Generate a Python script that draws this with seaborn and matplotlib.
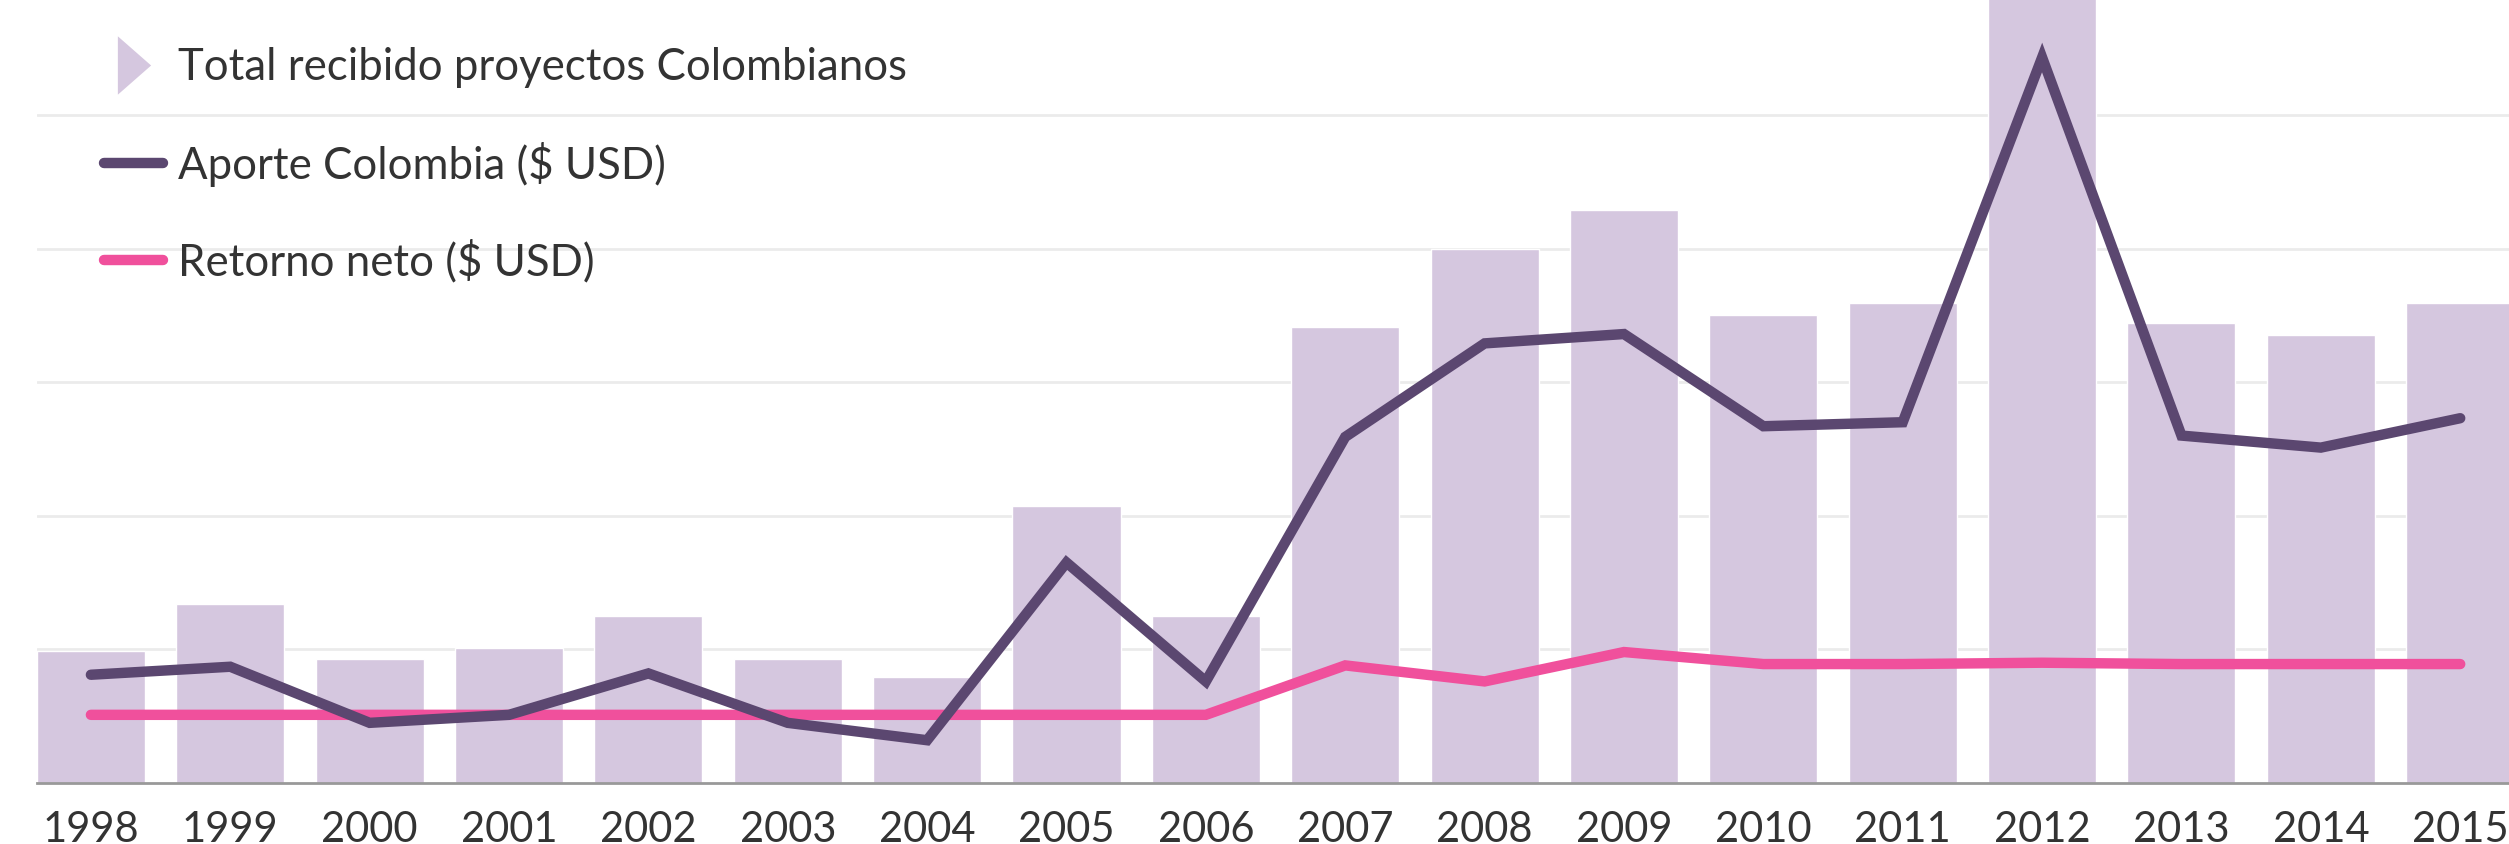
import numpy as np
import pandas as pd
import matplotlib
matplotlib.use("Agg")
import matplotlib.pyplot as plt
from matplotlib.lines import Line2D
import seaborn as sns

# data (one gridline = 1 unit)
years = [str(y) for y in range(1998, 2016)]
total_recibido = [0.99, 1.34, 0.93, 1.01, 1.25, 0.93, 0.79, 2.07, 1.25,
                  3.41, 4.00, 4.29, 3.50, 3.59, 6.20, 3.44, 3.35, 3.59]
aporte_colombia = [0.81, 0.87, 0.45, 0.51, 0.82, 0.45, 0.32, 1.65, 0.76,
                   2.59, 3.29, 3.36, 2.67, 2.70, 5.43, 2.60, 2.51, 2.73]
retorno_neto = [0.51, 0.51, 0.51, 0.51, 0.51, 0.51, 0.51, 0.51, 0.51,
                0.88, 0.76, 0.98, 0.89, 0.89, 0.90, 0.89, 0.89, 0.89]

df = pd.DataFrame({"year": years, "total": total_recibido,
                   "aporte": aporte_colombia, "retorno": retorno_neto})

bar_color = "#d5c7df"
dark = "#5b4770"
pink = "#f0509c"

sns.set_style("white")
plt.rcParams["font.family"] = ["Lato", "DejaVu Sans"]

fig = plt.figure(figsize=(25.09, 8.44), dpi=100)
ax = fig.add_axes([0.0147, 0.0723, 0.9853, 0.9277])

sns.barplot(data=df, x="year", y="total", color=bar_color, saturation=1,
            width=0.775, ax=ax, zorder=2)
sns.pointplot(data=df, x="year", y="retorno", color=pink, markersize=0,
              linewidth=7.5, solid_capstyle="round", solid_joinstyle="miter",
              ax=ax, zorder=3)
sns.pointplot(data=df, x="year", y="aporte", color=dark, markersize=0,
              linewidth=7.5, solid_capstyle="round", solid_joinstyle="miter",
              ax=ax, zorder=4)

ax.set_xlim(-0.3875, 17.35)
ax.set_ylim(0, 5.86)
ax.set_yticks([1, 2, 3, 4, 5])
ax.set_yticklabels([])
ax.tick_params(axis="y", length=0)
ax.tick_params(axis="x", length=0, labelsize=30, colors="#333333", pad=20)
ax.grid(axis="y", color="#ebebeb", linewidth=2)
ax.set_axisbelow(True)
ax.set_xlabel("")
ax.set_ylabel("")
for side in ["top", "right", "left"]:
    ax.spines[side].set_visible(False)
ax.spines["bottom"].set_color("#999999")
ax.spines["bottom"].set_linewidth(2)

tri = [(-0.57, -1), (0.57, 0), (-0.57, 1)]
handles = [
    Line2D([], [], linestyle="none", marker=tri, markersize=42,
           markerfacecolor=bar_color, markeredgewidth=0),
    Line2D([], [], color=dark, linewidth=7.5, solid_capstyle="round"),
    Line2D([], [], color=pink, linewidth=7.5, solid_capstyle="round"),
]
labels = ["Total recibido proyectos Colombianos", "Aporte Colombia ($ USD)",
          "Retorno neto ($ USD)"]
fig.legend(handles, labels, loc="upper left", bbox_to_anchor=(0.0415, 0.944),
           frameon=False, fontsize=31.5, labelcolor="#333333", handlelength=1.35,
           handletextpad=0.35, labelspacing=1.22, borderpad=0, borderaxespad=0)

fig.savefig("out.png", dpi=100)
